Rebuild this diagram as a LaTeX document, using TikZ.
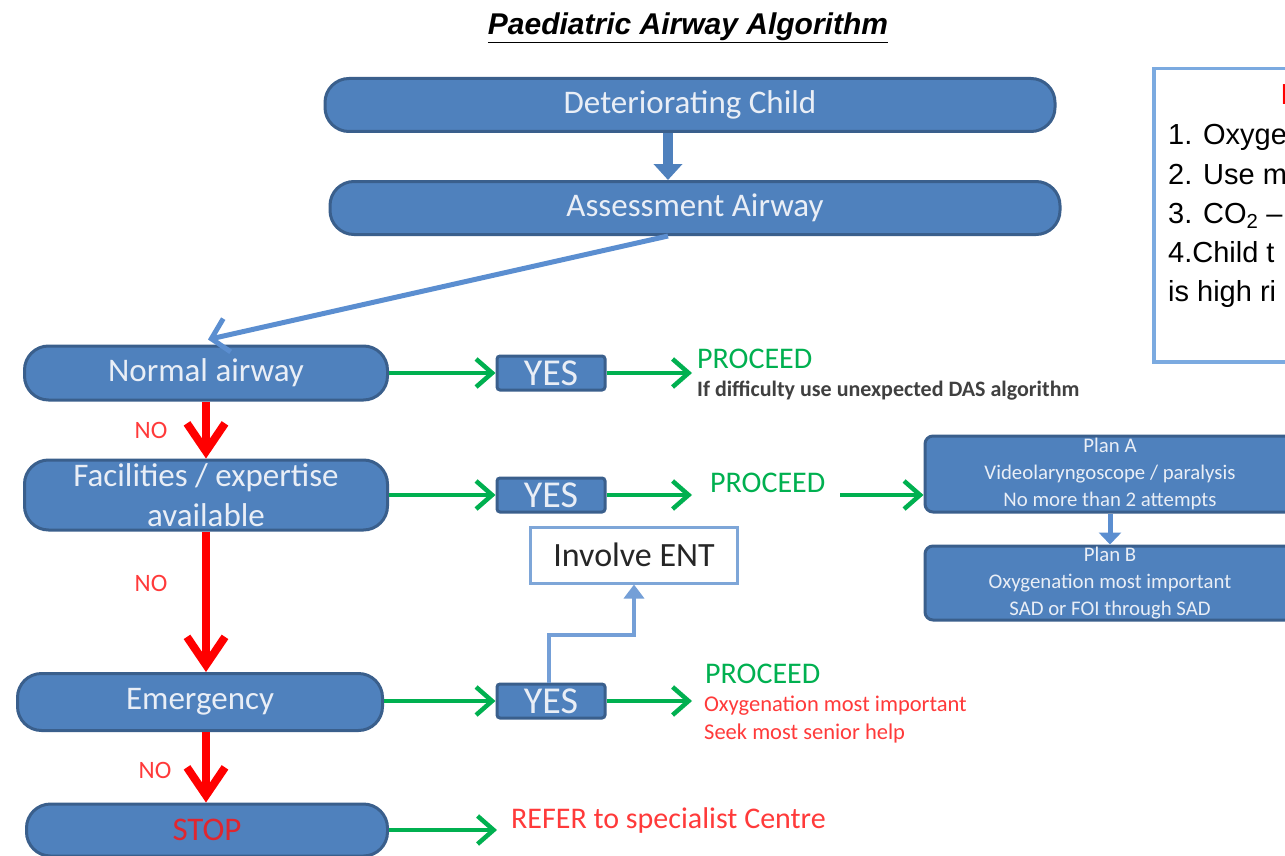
\documentclass[tikz,border=0pt]{standalone}
\usepackage{fontspec}
\setmainfont{Carlito}
\newfontfamily\arialfont{Liberation Sans}
\usetikzlibrary{arrows.meta}

\definecolor{boxblue}{HTML}{4F81BD}
\definecolor{boxedge}{HTML}{3A5F8C}
\definecolor{boxtext}{HTML}{E9EEF6}
\definecolor{yesgreen}{HTML}{00B050}
\definecolor{nored}{HTML}{FF0000}
\definecolor{redtext}{HTML}{FF3A3A}
\definecolor{stopred}{HTML}{E0262F}
\definecolor{linkblue}{HTML}{5B8ED0}
\definecolor{entedge}{HTML}{7EA6D8}
\definecolor{noteedge}{HTML}{7BAAE0}
\definecolor{notegray}{HTML}{404040}

\begin{document}
\begin{tikzpicture}[x=1pt,y=-1pt,
    every node/.style={inner sep=0pt},
    stepbox/.style={draw=boxedge, line width=3pt, fill=boxblue, rounded corners=24pt,
      text=boxtext, align=center, font=\fontsize{33}{40}\selectfont},
    yesbox/.style={draw=boxedge, line width=3pt, fill=boxblue, rounded corners=3pt,
      text=boxtext, minimum width=108pt, minimum height=34pt, font=\fontsize{38}{40}\selectfont},
    planbox/.style={draw=boxedge, line width=3pt, fill=boxblue, rounded corners=8pt,
      text=boxtext, align=center, minimum width=370pt, font=\fontsize{20.8}{27}\selectfont},
    golink/.style={yesgreen, line width=4.5pt, -{Straight Barb[length=16pt,width=28pt,line width=4.5pt]}},
    nolink/.style={nored, line width=8pt, -{Straight Barb[length=28pt,width=38pt,line width=8pt]}},
    bluelink/.style={linkblue, line width=5pt},
    entlink/.style={linkblue!85!white, line width=4pt, -{Triangle[length=14pt,width=20pt]}},
    greentext/.style={anchor=west, text=yesgreen, font=\fontsize{30}{32}\selectfont},
    redsmall/.style={anchor=west, text=redtext, font=\fontsize{22.5}{27}\selectfont},
    nolabel/.style={text=redtext, font=\fontsize{25}{27}\selectfont}]
  \clip (0,0) rectangle (1285,856);
  \fill[white] (0,0) rectangle (1285,856);

  % title
  \node (title) at (688,28) {\arialfont\fontsize{30}{32}\selectfont\bfseries\itshape\underline{Paediatric Airway Algorithm}};

  % main column
  \node[stepbox, minimum width=730pt, minimum height=53pt] (deter) at (690,105) {Deteriorating Child};
  \node[stepbox, minimum width=730pt, minimum height=53pt] (assess) at (695,208) {Assessment Airway};
  \node[stepbox, minimum width=363pt, minimum height=54pt] (normal) at (206,373) {Normal airway};
  \node[stepbox, minimum width=363pt, minimum height=70pt] (facil) at (206,495) {Facilities / expertise\\available};
  \node[stepbox, minimum width=365pt, minimum height=57pt] (emerg) at (200,702) {Emergency};
  \node[stepbox, minimum width=361pt, minimum height=52pt, text=stopred] (stop) at (207,830) {STOP};

  \draw[boxblue, line width=10pt, -{Triangle[length=16pt,width=28pt]}]
    ([xshift=-22pt]deter.south) -- ([xshift=-27pt]assess.north);
  \draw[bluelink, -{Straight Barb[length=16pt,width=34pt,line width=5pt]}]
    ([xshift=-27pt]assess.south) -- ([xshift=2pt,yshift=5pt]normal.north);

  % NO branch
  \draw[nolink] (normal.south) -- (facil.north);
  \draw[nolink] (facil.south) -- (facil.south |- emerg.north);
  \draw[nolink] (facil.south |- emerg.south) -- (facil.south |- stop.north);
  \node[nolabel] (no1) at (151,430) {NO};
  \node[nolabel] (no2) at (151,583) {NO};
  \node[nolabel] (no3) at (155,770) {NO};

  % YES branch
  \node[yesbox] (yesA) at (551,373) {YES};
  \node[yesbox] (yesB) at (551,495) {YES};
  \node[yesbox] (yesC) at (551,701) {YES};
  \coordinate (endA) at (692,373);
  \coordinate (endB) at (692,495);
  \coordinate (startB) at (840,495);
  \coordinate (endC) at (692,701);
  \coordinate (endD) at (497,830);
  \draw[golink] (normal.east) -- (yesA.west);
  \draw[golink] (yesA.east) -- (endA);
  \draw[golink] (facil.east) -- (yesB.west);
  \draw[golink] (yesB.east) -- (endB);
  \draw[golink] (emerg.east |- yesC.west) -- (yesC.west);
  \draw[golink] (yesC.east) -- (endC);
  \draw[golink] (stop.east) -- (endD);

  \node[greentext] (procA) at (697,359) {PROCEED};
  \node[anchor=west, text=notegray, font=\fontsize{22}{24}\selectfont\bfseries] (dasA) at (697,391) {If difficulty use unexpected DAS algorithm};
  \node[greentext] (procB) at (710,483) {PROCEED};
  \node[greentext] (procC) at (705,674) {PROCEED};
  \node[redsmall] (oxyC) at (704,706) {Oxygenation most important};
  \node[redsmall] (seekC) at (704,733) {Seek most senior help};
  \node[anchor=west, text=redtext, font=\fontsize{30}{32}\selectfont] (refer) at (511,820) {REFER to specialist Centre};

  % plans
  \node[planbox, minimum height=76pt] (planA) at (1110,474) {Plan A\\Videolaryngoscope / paralysis\\No more than 2 attempts};
  \node[planbox, minimum height=74pt] (planB) at (1110,583) {Plan B\\Oxygenation most important\\SAD or FOI through SAD};
  \draw[golink] (startB) -- (startB -| planA.west);
  \draw[linkblue, line width=5pt, -{Triangle[length=12pt,width=22pt]}] (planA.south) -- (planB.north);

  % ENT
  \node[draw=entedge, line width=3pt, fill=white, minimum width=207pt, minimum height=56pt,
    text=black!85, font=\fontsize{34}{36}\selectfont] (ent) at (634,555) {Involve ENT};
  \draw[entlink] ([xshift=-2pt]yesC.north) -- ++(0,-48) -| (ent.south);

  % notes
  \node[draw=noteedge, line width=3.5pt, fill=white, minimum width=300pt, minimum height=293pt, anchor=north west] (notes) at (1152,67) {};
  \node[anchor=base west, text=nored, font=\arialfont\fontsize{29}{32}\selectfont\bfseries] (notehead) at (1281,105) {I};
  \begin{scope}[every node/.style={anchor=base west, inner sep=0pt, font=\arialfont\fontsize{29}{39}\selectfont}]
    \node (n1) at (1168,145) {1. Oxyge};
    \node (n2) at (1168,184) {2. Use m};
    \node (n3) at (1168,223) {3. CO\textsubscript{2} –};
    \node (n4) at (1168,262) {4.Child t};
    \node (n5) at (1168,301) {is high ri};
  \end{scope}
\end{tikzpicture}
\end{document}
